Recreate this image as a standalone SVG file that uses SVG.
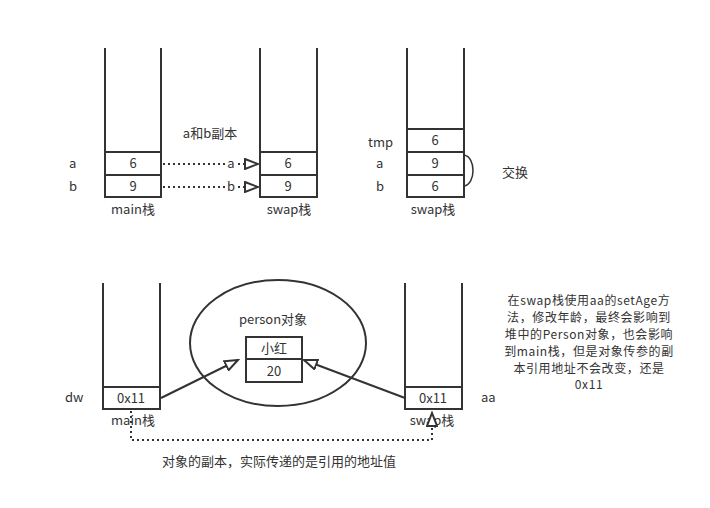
<svg xmlns="http://www.w3.org/2000/svg" width="710" height="508" viewBox="0 0 710 508">
  <style>
    text { font-family: "Noto Sans CJK SC", "Liberation Sans", sans-serif; font-size: 13px; fill: #333; }
    .c { text-anchor: middle; }
    .note { font-size: 12px; letter-spacing: 0.6px; }
    .ln { fill: none; stroke: #333; stroke-width: 2; }
    .cell { fill: #fff; stroke: #333; stroke-width: 2; }
    .dot { fill: none; stroke: #333; stroke-width: 2; stroke-dasharray: 2 3; }
  </style>
  <defs>
    <marker id="tri" markerWidth="16" markerHeight="12" refX="14" refY="6" orient="auto" markerUnits="userSpaceOnUse">
      <path d="M1,1 L14,6 L1,11 Z" fill="#fff" stroke="#333" stroke-width="2"/>
    </marker>
  </defs>
  <rect width="710" height="508" fill="#fff"/>

  <!-- top: main stack -->
  <g id="main-top">
    <path class="ln" d="M105,48 V197 H161 V48"/>
    <rect class="cell" x="105" y="152" width="56" height="23"/>
    <rect class="cell" x="105" y="175" width="56" height="22"/>
    <text class="c" x="133" y="168">6</text>
    <text class="c" x="133" y="191">9</text>
    <text x="69" y="168">a</text>
    <text x="69" y="191">b</text>
    <text class="c" x="133" y="214">main栈</text>
  </g>

  <!-- top: swap stack (copy) -->
  <g id="swap-top">
    <path class="ln" d="M260,48 V197 H317 V48"/>
    <rect class="cell" x="260" y="152" width="57" height="23"/>
    <rect class="cell" x="260" y="175" width="57" height="22"/>
    <text class="c" x="288" y="168">6</text>
    <text class="c" x="288" y="191">9</text>
    <text class="c" x="289" y="214">swap栈</text>
  </g>

  <!-- top: swap stack (after swap) -->
  <g id="swap-after">
    <path class="ln" d="M407,48 V197 H464 V48"/>
    <rect class="cell" x="407" y="129" width="57" height="23"/>
    <rect class="cell" x="407" y="152" width="57" height="23"/>
    <rect class="cell" x="407" y="175" width="57" height="22"/>
    <text class="c" x="435" y="145">6</text>
    <text class="c" x="435" y="168">9</text>
    <text class="c" x="435" y="191">6</text>
    <text x="368" y="147">tmp</text>
    <text x="376" y="168">a</text>
    <text x="376" y="191">b</text>
    <text class="c" x="433" y="214">swap栈</text>
    <path d="M464,155 C476,157 476,184 464,186" fill="none" stroke="#333" stroke-width="1.5"/>
    <text x="502" y="177">交换</text>
  </g>

  <!-- bottom: main stack -->
  <g id="main-bottom">
    <path class="ln" d="M103,283 V409 H160 V283"/>
    <rect class="cell" x="103" y="387" width="57" height="22"/>
    <text class="c" x="131" y="403">0x11</text>
    <text x="65" y="402">dw</text>
    <text class="c" x="133" y="425">main栈</text>
  </g>

  <!-- heap object -->
  <g id="person">
    <ellipse cx="278" cy="343" rx="88" ry="63" fill="none" stroke="#333" stroke-width="2"/>
    <text class="c" x="273" y="324">person对象</text>
    <rect class="cell" x="246" y="337" width="56" height="22"/>
    <rect class="cell" x="246" y="359" width="56" height="23"/>
    <text class="c" x="274" y="353">小红</text>
    <text class="c" x="274" y="376">20</text>
  </g>

  <!-- bottom: swap stack -->
  <g id="swap-bottom">
    <path class="ln" d="M405,283 V409 H462 V283"/>
    <rect class="cell" x="405" y="387" width="57" height="22"/>
    <text class="c" x="433" y="403">0x11</text>
    <text x="481" y="402">aa</text>
    <text class="c" x="432" y="425">swap栈</text>
  </g>

  <!-- connectors -->
  <g id="connectors">
    <line class="dot" x1="163" y1="164" x2="258" y2="164" marker-end="url(#tri)"/>
    <line class="dot" x1="163" y1="187" x2="258" y2="187" marker-end="url(#tri)"/>
    <rect x="225" y="155" width="12" height="16" fill="#fff"/>
    <rect x="225" y="178" width="12" height="16" fill="#fff"/>
    <text class="c" x="231" y="168">a</text>
    <text class="c" x="231" y="191">b</text>
    <text class="c" x="210" y="138">a和b副本</text>

    <line x1="161" y1="398" x2="238" y2="360" stroke="#333" stroke-width="2" marker-end="url(#tri)"/>
    <line x1="405" y1="398" x2="304" y2="360" stroke="#333" stroke-width="2" marker-end="url(#tri)"/>

    <path class="dot" d="M131,411 V440 H432 V413" marker-end="url(#tri)"/>
    <text class="c" x="279" y="466">对象的副本，实际传递的是引用的地址值</text>
  </g>

  <!-- note -->
  <g id="note">
    <text class="c note" x="589" y="305">在swap栈使用aa的setAge方</text>
    <text class="c note" x="589" y="322">法，修改年龄，最终会影响到</text>
    <text class="c note" x="589" y="339">堆中的Person对象，也会影响</text>
    <text class="c note" x="589" y="356">到main栈，但是对象传参的副</text>
    <text class="c note" x="589" y="373">本引用地址不会改变，还是</text>
    <text class="c note" x="589" y="389">0x11</text>
  </g>
</svg>
